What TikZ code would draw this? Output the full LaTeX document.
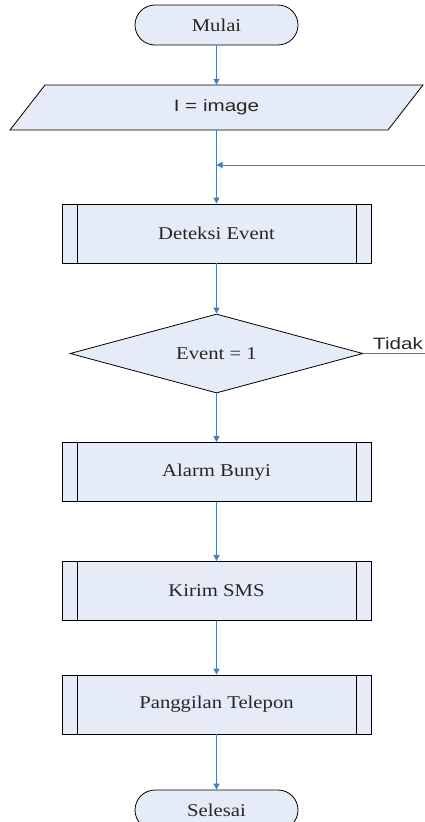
\documentclass[tikz,border=0pt]{standalone}
\usepackage{fontspec}
\setmainfont{Liberation Serif}
\newfontfamily\boxfont[FakeStretch=1.15]{Liberation Serif}
\newfontfamily\labfont[FakeStretch=1.25]{Liberation Sans}
\usetikzlibrary{shapes.geometric,arrows.meta,calc}
\definecolor{fillblue}{HTML}{E6ECF7}
\definecolor{lineblue}{HTML}{4A7EBB}
\tikzset{
  base/.style={draw=black, line width=0.8pt, fill=fillblue, font=\boxfont\fontsize{18}{20}\selectfont, text=black!85, inner sep=0pt},
  term/.style={base, rectangle, rounded corners=20pt, minimum width=163pt, minimum height=40pt},
  proc/.style={base, rectangle, minimum width=309pt, minimum height=59pt,
    path picture={
      \draw[line width=0.8pt] ([xshift=15pt]path picture bounding box.north west) -- ([xshift=15pt]path picture bounding box.south west);
      \draw[line width=0.8pt] ([xshift=-15pt]path picture bounding box.north east) -- ([xshift=-15pt]path picture bounding box.south east);}},
  dec/.style={base, diamond, aspect=3.7, minimum width=293pt, minimum height=79pt},
  lab/.style={font=\labfont\fontsize{16.5}{18}\selectfont, text=black!85, inner sep=0pt},
  flow/.style={draw=lineblue, line width=1pt, -{Triangle[length=6pt,width=6pt]}},
  link/.style={draw=lineblue, line width=1pt}
}
\begin{document}
\begin{tikzpicture}[x=1pt, y=-1pt]
\useasboundingbox (0,0) rectangle (425,822);
% start
\node[term] (mulai) at (216.5,25) {Mulai};
% input parallelogram
\draw[draw=black, line width=0.8pt, fill=fillblue] (45,85) -- (423,85) -- (388,130) -- (10,130) -- cycle;
\node[lab, minimum width=300pt, minimum height=45pt] (inp) at (216.5,107.5) {I = image};
% process steps
\node[proc] (det) at (216.5,233.5) {Deteksi Event};
\node[dec] (dec) at (216.5,353.5) {Event = 1};
\node[proc] (alarm) at (216.5,472) {Alarm Bunyi};
\node[proc] (sms) at (216.5,591) {Kirim SMS};
\node[proc] (tel) at (216.5,704.5) {Panggilan Telepon};
\node[term] (selesai) at (216.5,810) {Selesai};
% loop-back entry
\coordinate (loopin) at (425,165);
\coordinate (loopend) at (216.5,165);
\coordinate (tidakend) at (425,353.5);
% connectors
\draw[flow] (mulai) -- (inp);
\draw[flow] (inp) -- (det);
\draw[flow] (loopin) -- (loopend);
\draw[flow] (det) -- (dec);
\draw[link] (dec.east) -- (tidakend);
\node[lab, anchor=south] (tidak) at (398,350) {Tidak};
\draw[flow] (dec) -- (alarm);
\draw[flow] (alarm) -- (sms);
\draw[flow] (sms) -- (tel);
\draw[flow] (tel) -- (selesai);
\end{tikzpicture}
\end{document}
